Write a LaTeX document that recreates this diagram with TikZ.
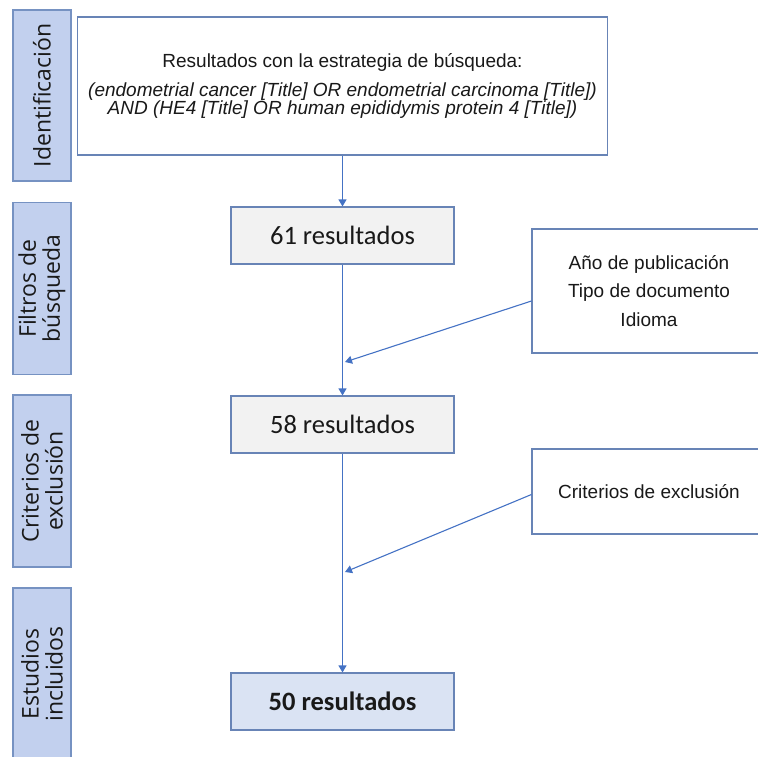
\documentclass[tikz,border=0pt]{standalone}
\usepackage{fontspec}
\setmainfont{Liberation Sans}
\newfontfamily\calibri{Carlito}
\newfontfamily\segoe{Open Sans}
\usetikzlibrary{arrows.meta}
\definecolor{barfill}{RGB}{194,208,238}
\definecolor{bardraw}{RGB}{118,146,194}
\definecolor{boxdraw}{RGB}{104,132,182}
\definecolor{stagefill}{RGB}{242,242,242}
\definecolor{finalfill}{RGB}{218,227,243}
\definecolor{flowblue}{RGB}{68,114,196}
\definecolor{textdark}{RGB}{25,25,25}

\begin{document}
\begin{tikzpicture}[x=1pt, y=-1pt,
	bar/.style={draw=bardraw, fill=barfill, line width=1.2pt, rotate=90, minimum width=172pt, minimum height=58pt, inner sep=0pt, align=center, text=textdark, font=\segoe\fontsize{23}{24}\selectfont},
	stage/.style={draw=boxdraw, fill=stagefill, line width=1.1pt, minimum width=223pt, minimum height=57pt, text=textdark, font=\calibri\fontsize{26.5}{30}\selectfont},
	note/.style={draw=boxdraw, fill=white, line width=1.1pt, minimum width=234pt, align=center, text=textdark, font=\fontsize{19}{28.5}\selectfont},
	flow/.style={draw=flowblue, line width=1.1pt, -{Triangle[length=7pt, width=8pt]}}]
				\useasboundingbox (0,0) rectangle (758,756);
				\node[bar, minimum width=171pt] (idbar) at (42,95.5) {Identificación};
				\node[bar] (filtbar) at (42,288.5) {Filtros de\\búsqueda};
				\node[bar] (critbar) at (42,481) {Criterios de\\exclusión};
				\node[bar] (estbar) at (42,674) {Estudios\\incluidos};
				\node[draw=boxdraw, fill=white, line width=1.1pt, minimum width=530pt, minimum height=138pt, align=center, text=textdark, font=\fontsize{19}{15.5}\selectfont] (search) at (342.5,86) {Resultados con la estrategia de búsqueda:\\[10.5pt]\itshape (endometrial cancer [Title] OR endometrial carcinoma [Title])\\\itshape AND (HE4 [Title] OR human epididymis protein 4 [Title])};
				\node[stage] (r61) at (342.5,235.5) {61 resultados};
				\node[stage] (r58) at (342.5,424.5) {58 resultados};
				\node[stage, fill=finalfill, font=\calibri\bfseries\fontsize{26.5}{30}\selectfont] (r50) at (342.5,701.5) {50 resultados};
				\node[note, minimum height=124pt] (filt) at (649,291) {Año de publicación\\Tipo de documento\\Idioma};
				\node[note, minimum height=85pt] (excl) at (649,491.5) {Criterios de exclusión};
				\coordinate (f1) at (345,362);
				\coordinate (f2) at (345,572);
				\draw[flow] (search) -- (r61);
				\draw[flow] (r61) -- (r58);
				\draw[flow] (r58) -- (r50);
				\draw[flow] ([yshift=-10pt]filt.west) -- (f1);
				\draw[flow] ([yshift=-3pt]excl.west) -- (f2);
			\end{tikzpicture}
\end{document}
